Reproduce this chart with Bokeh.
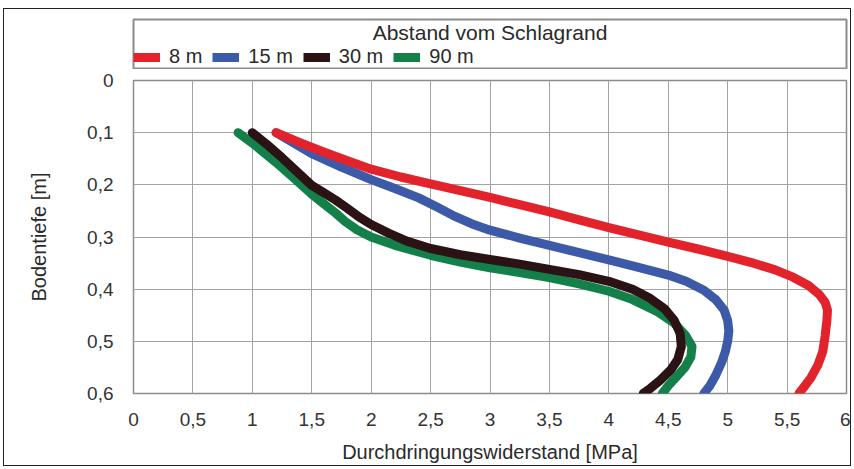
from bokeh.plotting import figure
from bokeh.models import (Range1d, FixedTicker, CustomJSTickFormatter, Legend, LegendItem,
                          Label, ColumnDataSource, Column)
from bokeh.embed import file_html
from bokeh.resources import INLINE

# ---------------- data ----------------
series_names = ["8 m", "15 m", "30 m", "90 m"]
series_colors = ["#e3232c", "#3d5aa9", "#2b1214", "#13804a"]

red_x = [1.2, 1.4, 1.6, 1.8, 2.0, 2.25, 2.5, 2.75, 3.0, 3.25, 3.5, 3.75, 4.0, 4.25, 4.5, 4.75,
         5.0, 5.2, 5.4, 5.55, 5.68, 5.77, 5.82, 5.84, 5.835, 5.82, 5.8, 5.76, 5.7, 5.65, 5.6]
red_y = [0.100, 0.119, 0.137, 0.154, 0.170, 0.185, 0.198, 0.211, 0.224, 0.238, 0.252, 0.267,
         0.282, 0.296, 0.310, 0.323, 0.337, 0.349, 0.363, 0.377, 0.393, 0.410, 0.425, 0.440,
         0.460, 0.490, 0.520, 0.545, 0.570, 0.585, 0.600]

blue_x = [1.2, 1.35, 1.5, 1.75, 2.0, 2.2, 2.4, 2.55, 2.7, 2.85, 3.0, 3.25, 3.5, 3.75, 4.0, 4.25,
          4.5, 4.65, 4.8, 4.9, 4.97, 5.0, 5.01, 5.0, 4.98, 4.95, 4.9, 4.85, 4.8]
blue_y = [0.100, 0.120, 0.140, 0.166, 0.190, 0.207, 0.225, 0.242, 0.260, 0.275, 0.287, 0.302,
          0.316, 0.330, 0.344, 0.358, 0.373, 0.385, 0.402, 0.420, 0.440, 0.460, 0.480, 0.500,
          0.520, 0.540, 0.565, 0.585, 0.600]

dark_x = [1.0, 1.12, 1.25, 1.4, 1.5, 1.6, 1.7, 1.8, 1.9, 2.0, 2.15, 2.3, 2.5, 2.75, 3.0, 3.25,
          3.5, 3.75, 4.0, 4.2, 4.35, 4.47, 4.55, 4.6, 4.61, 4.58, 4.52, 4.43, 4.35, 4.29]
dark_y = [0.100, 0.122, 0.148, 0.180, 0.201, 0.215, 0.229, 0.245, 0.262, 0.276, 0.293, 0.308,
          0.322, 0.334, 0.343, 0.352, 0.362, 0.372, 0.385, 0.400, 0.418, 0.438, 0.460, 0.485,
          0.510, 0.535, 0.555, 0.575, 0.590, 0.600]

green_x = [0.88, 1.0, 1.2, 1.35, 1.5, 1.6, 1.7, 1.78, 1.88, 2.0, 2.2, 2.5, 2.75, 3.0, 3.25, 3.5,
           3.75, 4.0, 4.2, 4.4, 4.55, 4.65, 4.7, 4.69, 4.64, 4.56, 4.5, 4.45]
green_y = [0.100, 0.120, 0.157, 0.187, 0.218, 0.236, 0.254, 0.270, 0.286, 0.300, 0.316, 0.335,
           0.348, 0.359, 0.368, 0.378, 0.390, 0.404, 0.420, 0.442, 0.465, 0.490, 0.510, 0.530,
           0.550, 0.570, 0.585, 0.600]

x_ticks = [0, 0.5, 1, 1.5, 2, 2.5, 3, 3.5, 4, 4.5, 5, 5.5, 6]
y_ticks = [0, 0.1, 0.2, 0.3, 0.4, 0.5, 0.6]

legend_title = "Abstand vom Schlagrand"
x_label = "Durchdringungswiderstand [MPa]"
y_label = "Bodentiefe [m]"

FONT = "Liberation Sans"
W = 846
ML, MR = 129, 4
TXT = "#2a2a2a"

# ---------------- legend panel ----------------
top = figure(width=W, height=60, x_range=Range1d(0, 1), y_range=Range1d(0, 1),
             toolbar_location=None, output_backend="svg",
             min_border_left=ML, min_border_right=MR, min_border_top=10, min_border_bottom=0)
top.axis.visible = False
top.grid.visible = False
top.outline_line_color = "#8c8c8c"
top.outline_line_width = 2

top.add_layout(Label(x=0.5, y=0.74, text=legend_title, text_align="center", text_baseline="middle",
                     text_font=FONT, text_font_size="21px", text_color=TXT))

items = []
for name, col in zip(series_names, series_colors):
    # legend-key renderers: kept outside the visible range of this panel
    r = top.line(x=[-2, -1], y=[-2, -2], line_color=col, line_width=9)
    items.append(LegendItem(label=name, renderers=[r]))
leg = Legend(items=items, orientation="horizontal", location=(0, 1),
             border_line_color=None, background_fill_alpha=0,
             glyph_width=27, glyph_height=20, label_height=20, label_width=20,
             label_standoff=9, spacing=10,
             padding=0, margin=0, label_text_font=FONT, label_text_font_size="20px",
             label_text_color=TXT)
top.add_layout(leg, "center")

# ---------------- main plot ----------------
p = figure(width=W, height=396, x_range=Range1d(0, 6), y_range=Range1d(0.6, 0),
           toolbar_location=None, output_backend="svg",
           min_border_left=ML, min_border_right=MR, min_border_top=11, min_border_bottom=71)
p.outline_line_color = "#8c8c8c"
p.outline_line_width = 1.5

fmt = CustomJSTickFormatter(code="return (Math.round(tick*10)/10).toString().replace('.', ',');")
p.xaxis.ticker = FixedTicker(ticks=x_ticks)
p.yaxis.ticker = FixedTicker(ticks=y_ticks)
p.xaxis.formatter = fmt
p.yaxis.formatter = fmt

for ax in (p.xaxis, p.yaxis):
    ax.axis_line_color = None
    ax.major_tick_line_color = None
    ax.minor_tick_line_color = None
    ax.major_label_text_font = FONT
    ax.major_label_text_font_size = "19px"
    ax.major_label_text_color = "#333333"
    ax.axis_label_text_font = FONT
    ax.axis_label_text_font_size = "20px"
    ax.axis_label_text_font_style = "normal"
    ax.axis_label_text_color = TXT

p.xaxis.axis_label = x_label
p.yaxis.axis_label = y_label
p.xaxis.major_label_standoff = 13
p.xaxis.axis_label_standoff = 12
p.yaxis.major_label_standoff = 14
p.yaxis.axis_label_standoff = 34

p.grid.grid_line_color = "#a3a3a3"
p.grid.grid_line_width = 1

data = [(green_x, green_y, series_colors[3]),
        (dark_x, dark_y, series_colors[2]),
        (blue_x, blue_y, series_colors[1]),
        (red_x, red_y, series_colors[0])]
for xs, ys, col in data:
    src = ColumnDataSource(dict(x=xs, y=ys))
    p.line("x", "y", source=src, line_color=col, line_width=9, line_join="round", line_cap="round")

layout = Column(top, p, margin=(8, 0, 0, 3), styles={"border": "1px solid #222222"})

open("out.html", "w").write(file_html(layout, INLINE))
